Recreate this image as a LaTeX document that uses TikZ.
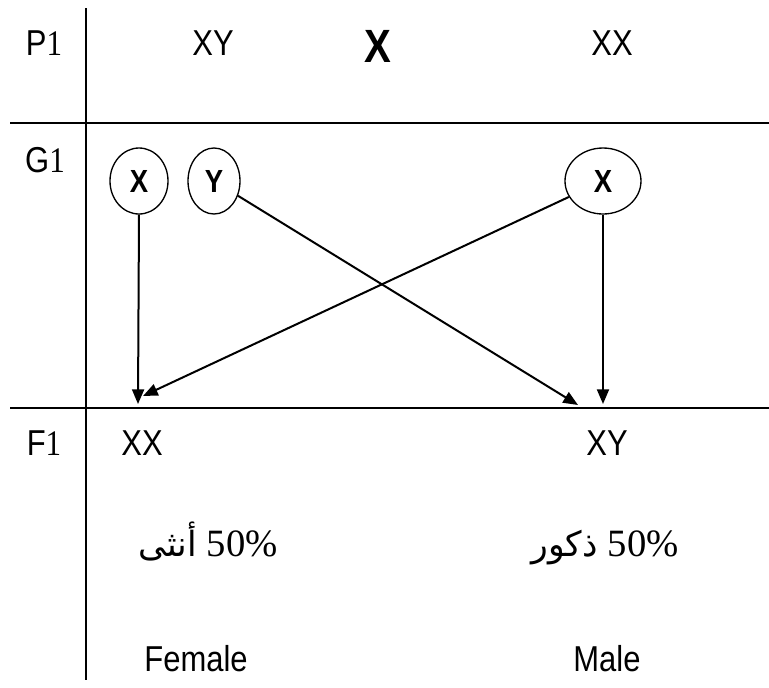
\documentclass[tikz,border=0pt]{standalone}
\usepackage{fontspec}
\setmainfont{Liberation Sans}
\newfontfamily\seriff{Liberation Serif}
\newfontfamily\arabicfont[Script=Arabic]{DejaVu Sans}
\TeXXeTstate=1
\usetikzlibrary{arrows.meta,shapes.geometric}
\newcommand\sqz[1]{\scalebox{0.86}[1]{#1}}
\begin{document}
\begin{tikzpicture}[x=0.75pt,y=-0.75pt,
  rule/.style={line width=1.5pt},
  lbl/.style={font=\fontsize{27}{29}\selectfont, inner sep=0, anchor=base},
  big/.style={font=\bfseries\fontsize{35}{37}\selectfont, inner sep=0, anchor=base},
  gam/.style={draw, ellipse, line width=1pt, inner sep=0, font=\bfseries\fontsize{24}{26}\selectfont},
  arr/.style={line width=1.5pt, -{Triangle[length=11pt,width=9pt]}}]
\useasboundingbox (0,0) rectangle (769,687);
% grid
\coordinate (vt) at (86,8);
\coordinate (vb) at (86,680);
\coordinate (h1l) at (10,123);
\coordinate (h1r) at (769,123);
\coordinate (h2l) at (10,408);
\coordinate (h2r) at (769,408);
\draw[rule] (vt) -- (vb);
\draw[rule] (h1l) -- (h1r);
\draw[rule] (h2l) -- (h2r);
% row labels
\node[lbl] (p1) at (44,55) {\sqz{P{\seriff 1}}};
\node[lbl] (g1) at (45,172) {\sqz{G{\seriff 1}}};
\node[lbl] (f1) at (44,455) {\sqz{F{\seriff 1}}};
% parents
\node[lbl] (pm) at (213,55) {\sqz{XY}};
\node[big] (cross) at (378,62) {\sqz{X}};
\node[lbl] (pf) at (612,55) {\sqz{XX}};
% gametes
\node[gam, minimum width=43.5pt, minimum height=49.5pt] (gx1) at (139,181) {\sqz{X}};
\node[gam, minimum width=39pt, minimum height=49.5pt] (gy) at (214,181) {\sqz{Y}};
\node[gam, minimum width=57pt, minimum height=49.5pt] (gx2) at (603,181) {\sqz{X}};
\coordinate (t1) at (138,404);
\coordinate (t2) at (578,405);
\coordinate (t3) at (143,396);
\coordinate (t4) at (603,404);
\draw[arr] (gx1.south) -- (t1);
\draw[arr] (gy) -- (t2);
\draw[arr] (gx2) -- (t3);
\draw[arr] (gx2.south) -- (t4);
% offspring
\node[lbl] (oxx) at (142,455) {\sqz{XX}};
\node[lbl] (oxy) at (607,455) {\sqz{XY}};
\node[lbl] (af) at (208,556) {{\fontsize{26}{28}\arabicfont\beginR أنثى\endR} {\seriff\fontsize{29}{31}\selectfont 50\%}};
\node[lbl] (am) at (605,556) {{\fontsize{26}{28}\arabicfont\beginR ذكور\endR} {\seriff\fontsize{29}{31}\selectfont 50\%}};
\node[lbl] (ef) at (196,671) {\sqz{Female}};
\node[lbl] (em) at (607,671) {\sqz{Male}};
\end{tikzpicture}
\end{document}
